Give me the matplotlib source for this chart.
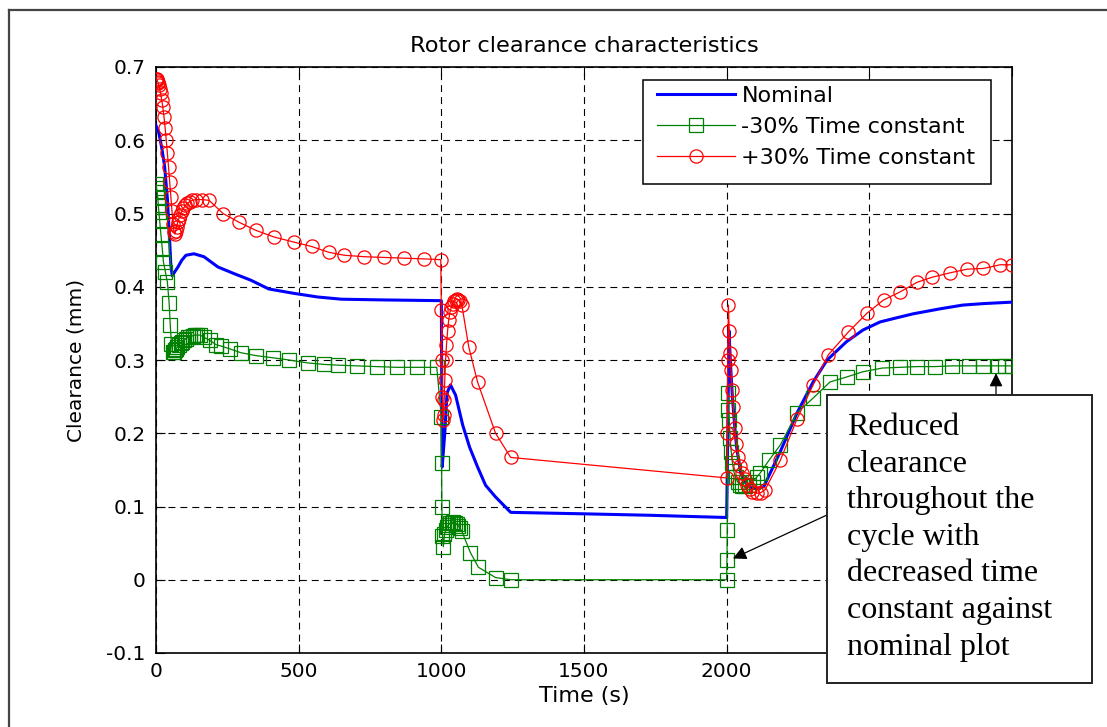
import matplotlib
matplotlib.use('Agg')
import matplotlib.pyplot as plt
from matplotlib.patches import Rectangle
from matplotlib.lines import Line2D

plt.rcParams['font.family'] = ['DejaVu Sans']
plt.rcParams['lines.scale_dashes'] = False

W, H, DPI = 1107, 727, 100

# ---------------- data ----------------
nominal_t = [0, 10, 20, 30, 40, 47, 52, 57, 65, 77,
             90, 105, 133, 168, 217, 273, 332, 395, 483, 567,
             650, 800, 1000, 1003, 1012, 1020, 1032, 1050, 1075, 1099,
             1127, 1155, 1190, 1243, 1500, 1733, 1907, 2000, 2004, 2008,
             2014, 2020, 2028, 2035, 2050, 2070, 2090, 2110, 2130, 2188,
             2247, 2303, 2352, 2420, 2478, 2538, 2600, 2653, 2750, 2828,
             2900, 3000]
nominal_y = [0.62, 0.61, 0.59, 0.565, 0.52, 0.47, 0.43, 0.415, 0.42, 0.427,
             0.436, 0.443, 0.445, 0.441, 0.427, 0.418, 0.409, 0.397, 0.391, 0.386,
             0.383, 0.382, 0.381, 0.154, 0.2, 0.255, 0.266, 0.252, 0.211, 0.181,
             0.154, 0.129, 0.113, 0.092, 0.09, 0.088, 0.086, 0.085, 0.2, 0.34,
             0.29, 0.25, 0.21, 0.18, 0.145, 0.13, 0.125, 0.125, 0.127, 0.175,
             0.228, 0.27, 0.30, 0.325, 0.341, 0.352, 0.358, 0.363, 0.37, 0.375,
             0.377, 0.379]

minus30_t = [0, 2, 4, 6, 8, 10, 13, 17, 22, 26,
             33, 40, 46, 50, 54, 58, 62, 66, 70, 75,
             80, 86, 92, 98, 105, 112, 120, 128, 136, 145,
             155, 168, 188, 210, 228, 260, 297, 350, 410, 466,
             532, 588, 637, 704, 774, 844, 914, 984,
             1000, 1001, 1002, 1004, 1007, 1011, 1015, 1020, 1025, 1030,
             1036, 1042, 1048, 1054, 1060, 1066, 1072, 1102, 1130, 1190,
             1243,
             2000, 2001, 2002, 2004, 2006, 2009, 2012, 2016, 2020, 2025,
             2031, 2038, 2046, 2055, 2065, 2078, 2092, 2105, 2118, 2150,
             2188, 2247, 2303, 2362, 2422, 2478, 2545, 2608, 2667, 2730,
             2790, 2848, 2900, 2952, 2977, 3000]
minus30_y = [0.54, 0.535, 0.53, 0.522, 0.512, 0.502, 0.49, 0.472, 0.452, 0.434,
             0.42, 0.406, 0.378, 0.348, 0.322, 0.311, 0.311, 0.313, 0.315, 0.318,
             0.32, 0.323, 0.325, 0.327, 0.329, 0.331, 0.332, 0.333, 0.334, 0.334,
             0.334, 0.331, 0.327, 0.321, 0.319, 0.315, 0.31, 0.306, 0.303, 0.30,
             0.296, 0.294, 0.293, 0.292, 0.291, 0.29, 0.29, 0.29,
             0.222, 0.159, 0.099, 0.06, 0.045, 0.062, 0.068, 0.072, 0.075, 0.077,
             0.078, 0.079, 0.078, 0.076, 0.073, 0.07, 0.066, 0.037, 0.017, 0.003,
             0.0,
             0.0, 0.027, 0.068, 0.255, 0.232, 0.218, 0.194, 0.175, 0.16, 0.148,
             0.14, 0.134, 0.13, 0.128, 0.128, 0.13, 0.134, 0.14, 0.146, 0.164,
             0.184, 0.228, 0.248, 0.27, 0.277, 0.284, 0.289, 0.29, 0.291, 0.291,
             0.292, 0.292, 0.292, 0.292, 0.292, 0.292]

plus30_t = [0, 2, 4, 6, 8, 10, 13, 16, 20, 24,
            28, 32, 36, 40, 44, 48, 52, 56, 60, 63,
            66, 69, 72, 76, 80, 85, 90, 96, 103, 110,
            118, 127, 140, 160, 186, 235, 291, 350, 413, 483,
            545, 606, 660, 730, 800, 870, 940, 998,
            1000, 1002, 1004, 1006, 1008, 1010, 1012, 1015, 1018, 1022,
            1026, 1030, 1035, 1040, 1045, 1050, 1055, 1060, 1066, 1072,
            1096, 1127, 1190, 1243, 2000,
            2002, 2004, 2006, 2009, 2012, 2015, 2019, 2023, 2028, 2034,
            2040, 2047, 2055, 2063, 2072, 2082, 2090, 2105, 2120, 2135,
            2188, 2247, 2303, 2356, 2426, 2492, 2550, 2608, 2667, 2720,
            2783, 2843, 2900, 2958, 3000]
plus30_y = [0.683, 0.684, 0.682, 0.68, 0.678, 0.675, 0.67, 0.664, 0.655, 0.645,
            0.632, 0.617, 0.60, 0.582, 0.563, 0.543, 0.523, 0.503, 0.485, 0.475,
            0.472, 0.476, 0.482, 0.488, 0.493, 0.498, 0.503, 0.507, 0.511, 0.514,
            0.516, 0.518, 0.519, 0.519, 0.518, 0.50, 0.488, 0.477, 0.468, 0.461,
            0.455, 0.447, 0.443, 0.441, 0.44, 0.439, 0.438, 0.437,
            0.368, 0.30, 0.25, 0.218, 0.225, 0.245, 0.273, 0.30, 0.32, 0.34,
            0.355, 0.365, 0.372, 0.377, 0.38, 0.382, 0.383, 0.382, 0.38, 0.375,
            0.318, 0.27, 0.20, 0.167, 0.139,
            0.2, 0.3, 0.375, 0.34, 0.31, 0.286, 0.259, 0.236, 0.207, 0.185,
            0.168, 0.155, 0.146, 0.138, 0.13, 0.124, 0.12, 0.118, 0.119, 0.123,
            0.163, 0.22, 0.266, 0.307, 0.338, 0.364, 0.382, 0.393, 0.406, 0.413,
            0.419, 0.424, 0.425, 0.43, 0.43]

series_labels = ['Nominal', '-30% Time constant', '+30% Time constant']
xtick_values = [0, 500, 1000, 1500, 2000, 2500, 3000]
xtick_labels = ['0', '500', '1000', '1500', '2000', '2500', '3000']
ytick_values = [-0.1, 0.0, 0.1, 0.2, 0.3, 0.4, 0.5, 0.6, 0.7]
ytick_labels = ['-0.1', '0', '0.1', '0.2', '0.3', '0.4', '0.5', '0.6', '0.7']
note_lines = ['Reduced', 'clearance', 'throughout the', 'cycle with',
              'decreased time', 'constant against', 'nominal plot']
note_target_1 = (2022, 0.029)
note_target_2 = (2944, 0.282)

# ---------------- figure ----------------
fig = plt.figure(figsize=(W / DPI, H / DPI), dpi=DPI)
fig.patch.set_facecolor('white')


def fx(px):
    return px / W


def fy(py):
    return 1 - py / H


ax = fig.add_axes([fx(156), fy(653), fx(1012) - fx(156), fy(67) - fy(653)])

l_nom, = ax.plot(nominal_t, nominal_y, color='#0000FF', lw=2.2, zorder=3)
l_m30, = ax.plot(minus30_t, minus30_y, color='#008000', lw=0.9, marker='s',
                 markersize=10.5, markerfacecolor='none', markeredgewidth=0.9,
                 zorder=4)
l_p30, = ax.plot(plus30_t, plus30_y, color='#FF0000', lw=0.9, marker='o',
                 markersize=9.5, markerfacecolor='none', markeredgewidth=0.9,
                 zorder=5)

ax.set_xlim(0, 3000)
ax.set_ylim(-0.1, 0.7)
ax.set_xticks(xtick_values)
ax.set_xticklabels(xtick_labels)
ax.set_yticks(ytick_values)
ax.set_yticklabels(ytick_labels)
ax.tick_params(direction='in', length=6.5, width=0.8, top=True, right=True,
               labelsize=14.5, colors='black')
ax.tick_params(axis='y', pad=7.5)
ax.tick_params(axis='x', pad=6.5)
for s in ax.spines.values():
    s.set_linewidth(1.2)
    s.set_color('black')
ax.grid(True, color='black', linestyle=(0, (5, 3.6)), linewidth=0.8)
ax.set_axisbelow(True)

ax.set_title('Rotor clearance characteristics', fontsize=16.2, pad=10.5)
ax.set_xlabel('Time (s)', fontsize=16)
ax.set_ylabel('Clearance (mm)', fontsize=14.5)
ax.xaxis.set_label_coords(0.5, -(686 - 653) / 586)
ax.yaxis.set_label_coords(-(156 - 86) / 856, 0.5)

# legend (frame drawn separately)
fig.add_artist(Rectangle((fx(643), fy(184)), fx(991) - fx(643), fy(80) - fy(184),
                         transform=fig.transFigure, facecolor='white',
                         edgecolor='black', lw=1.1, zorder=3))
leg = fig.legend([l_nom, l_m30, l_p30], series_labels, loc='upper left',
                 bbox_to_anchor=(fx(657), fy(86)), bbox_transform=fig.transFigure,
                 frameon=False, fontsize=16, handlelength=3.5, handletextpad=0.3,
                 labelspacing=0.5, borderpad=0, borderaxespad=0, numpoints=1)
leg.set_zorder(6)

# annotation box
fig.add_artist(Rectangle((fx(827), fy(683)), fx(1092) - fx(827), fy(395) - fy(683),
                         transform=fig.transFigure, facecolor='white',
                         edgecolor='#222222', lw=1.4, zorder=3))
for i, line in enumerate(note_lines):
    fig.text(fx(847), fy(435 + 36.6 * i), line, fontsize=23,
             family='Liberation Serif', va='baseline', ha='left', zorder=6)

arrow_kw = dict(arrowstyle='-|>', color='black', lw=0.9, mutation_scale=20,
                shrinkA=0, shrinkB=0)
ax.annotate('', xy=note_target_1, xytext=(fx(827), fy(515)),
            textcoords='figure fraction', arrowprops=arrow_kw,
            annotation_clip=False, zorder=7)
ax.annotate('', xy=note_target_2, xytext=(fx(996), fy(395)),
            textcoords='figure fraction', arrowprops=arrow_kw,
            annotation_clip=False, zorder=7)

# outer frame of the figure window
fig.add_artist(Line2D([fx(9), fx(9)], [fy(10), 0], transform=fig.transFigure,
                      color='#444444', lw=1.6, zorder=2))
fig.add_artist(Line2D([fx(9), 1], [fy(10), fy(10)], transform=fig.transFigure,
                      color='#444444', lw=1.6, zorder=2))

fig.savefig('out.png', dpi=DPI)
